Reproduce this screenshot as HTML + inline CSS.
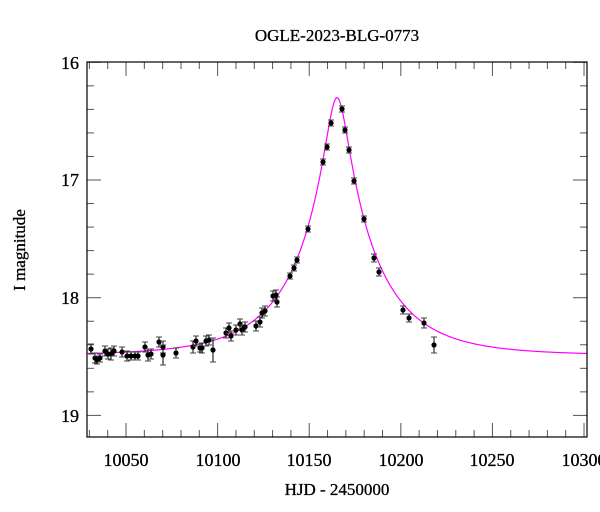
<!DOCTYPE html>
<html><head><meta charset="utf-8"><style>
html,body{margin:0;padding:0;background:#fff;}
svg{display:block;font-family:"Liberation Serif","DejaVu Serif",serif;}
</style></head><body>
<svg id="s" width="600" height="512" viewBox="0 0 600 512" xmlns="http://www.w3.org/2000/svg">
<rect width="600" height="512" fill="#fff"/>
<text x="337" y="41" font-size="17" text-anchor="middle" fill="#000" stroke="#000" stroke-width="0.3">OGLE-2023-BLG-0773</text>
<text x="337" y="495" font-size="17" text-anchor="middle" fill="#000" stroke="#000" stroke-width="0.3">HJD - 2450000</text>
<text transform="translate(25,250) rotate(-90)" font-size="17" text-anchor="middle" fill="#000" stroke="#000" stroke-width="0.3">I magnitude</text>
<g id="ticks" stroke="#555" stroke-width="1"></g>
<g font-size="18" fill="#000" text-anchor="end" stroke="#000" stroke-width="0.3">
<text x="79" y="69">16</text><text x="79" y="186">17</text><text x="79" y="304">18</text><text x="79" y="422">19</text>
</g>
<g font-size="18" fill="#000" text-anchor="middle" stroke="#000" stroke-width="0.3">
<text x="126" y="466">10050</text><text x="218" y="466">10100</text><text x="309" y="466">10150</text><text x="401" y="466">10200</text><text x="492" y="466">10250</text><text x="584" y="466">10300</text>
</g>
<path id="curve" fill="none" stroke="#ff00ff" stroke-width="1.2"/>
<g id="pts"></g>
<rect x="87" y="62" width="500" height="375" fill="none" stroke="#000" stroke-width="1.2"/>
</svg>
<script>
function X(t){return 87+(t-10028.7)*91.6/50;}
function Y(m){return 62.3+(m-16)*117.7;}
var tk=document.getElementById("ticks"),h="";
for(var t=10030;t<=10300;t+=10){var x=X(t),L=(t%50==0)?14:7;
h+='<line x1="'+x+'" y1="437" x2="'+x+'" y2="'+(437-L)+'"/><line x1="'+x+'" y1="62" x2="'+x+'" y2="'+(62+L)+'"/>';}
for(var i=0;i<=15;i++){var m=16+i*0.2,y=Y(m),L=(i%5==0)?14:7;if(y>437)break;
h+='<line x1="87" y1="'+y+'" x2="'+(87+L)+'" y2="'+y+'"/><line x1="587" y1="'+y+'" x2="'+(587-L)+'" y2="'+y+'"/>';}
tk.innerHTML=h;
var t0=10165.2,u0=0.134,tE=44,Ib=18.49,d="";
for(var px=87;px<=587;px+=0.5){var t=10028.7+(px-87)*50/91.6,u=Math.sqrt(u0*u0+Math.pow((t-t0)/tE,2));
var A=(u*u+2)/(u*Math.sqrt(u*u+4));var m=Ib-2.5*Math.log10(A);d+=(d?"L":"M")+px.toFixed(1)+" "+Y(m).toFixed(2);}
document.getElementById("curve").setAttribute("d",d);
var P=[[91,349,5],[95,358,5],[97,360,4],[100,358,4],[105,351,5],[108,354,5],[111,354,6],[114,351,5],[122,352,5],[127,356,5],[131,356,4],[135,356,4],[138,356,4],[145,347,5],[148,355,6],[151,354,5],[159,342,5],[163,347,6],[163,355,10],[176,353,5],[193,347,6],[196,341,5],[200,348,4],[202,348,5],[206,341,5],[209,340,5],[213,350,12],[226,333,5],[229,328,5],[231,336,5],[236,330,5],[240,324,5],[242,330,5],[245,327,5],[256,326,5],[260,322,5],[262,313,5],[265,311,5],[273,296,5],[277,302,5],[276,295,5],[290,276,3],[294,268,3],[297,260,3],[308,229,3],[323,162,3],[327,147,3],[331,123,3],[342,109,3],[345,130,3],[349,150,3],[354,181,3],[364,219,3],[374,258,4],[379,272,4],[403,310,4],[409,318,4],[424,323,5],[434,345,8]];
var g="";P.forEach(function(p){var x=p[0],y=p[1],e=p[2];
g+='<line x1="'+x+'" y1="'+(y-e)+'" x2="'+x+'" y2="'+(y+e)+'" stroke="#000" stroke-width="1"/>';
g+='<line x1="'+(x-3)+'" y1="'+(y-e)+'" x2="'+(x+3)+'" y2="'+(y-e)+'" stroke="#444"/><line x1="'+(x-3)+'" y1="'+(y+e)+'" x2="'+(x+3)+'" y2="'+(y+e)+'" stroke="#444"/>';
g+='<circle cx="'+x+'" cy="'+y+'" r="2.6" fill="#000"/>';});
document.getElementById("pts").innerHTML=g;
</script>
</body></html>
